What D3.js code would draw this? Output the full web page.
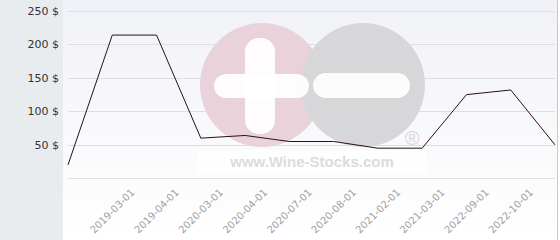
<!DOCTYPE html>
<html><head><meta charset="utf-8">
<script src="https://cdn.jsdelivr.net/npm/d3@7"></script>
<style>html,body{margin:0;padding:0;background:#fff;}svg{display:block;}</style>
</head><body>
<script>
const categories = ["", "2019-03-01", "2019-04-01", "2020-03-01", "2020-04-01", "2020-07-01", "2020-08-01", "2021-02-01", "2021-03-01", "2022-09-01", "2022-10-01", ""];
const prices = [20, 214, 214, 60, 64, 55, 55, 45, 45, 125, 132, 50];
const yTicks = [0, 50, 100, 150, 200, 250];

const W = 560, H = 240;
const svg = d3.select("body").append("svg").attr("width", W).attr("height", H);
const defs = svg.append("defs");
const grad = defs.append("linearGradient").attr("id", "bg").attr("x1", 0).attr("y1", 0).attr("x2", 0).attr("y2", 1);
grad.append("stop").attr("offset", "0%").attr("stop-color", "#f1f2f7");
grad.append("stop").attr("offset", "100%").attr("stop-color", "#ffffff");

// left panel
svg.append("rect").attr("x", 0).attr("y", 0).attr("width", 63).attr("height", H).attr("fill", "#e8ecef");
// plot background
svg.append("rect").attr("x", 63).attr("y", 0).attr("width", 494).attr("height", H).attr("fill", "url(#bg)");
svg.append("line").attr("x1", 557.5).attr("x2", 557.5).attr("y1", 0).attr("y2", H).attr("stroke", "#c8c8c8");

const x = d3.scalePoint().domain(d3.range(categories.length)).range([68, 555]);
const y = d3.scaleLinear().domain([0, 250]).range([178.3, 11]);

// grid
svg.append("g").selectAll("line").data(yTicks).join("line")
  .attr("x1", 68).attr("x2", 555)
  .attr("y1", d => Math.round(y(d)) + 0.5).attr("y2", d => Math.round(y(d)) + 0.5)
  .attr("stroke", "#dedee2").attr("stroke-width", 1);

// watermark
const wm = svg.append("g");
wm.append("circle").attr("cx", 262).attr("cy", 85).attr("r", 62).attr("fill", "#ead2da");
wm.append("circle").attr("cx", 363).attr("cy", 85).attr("r", 62).attr("fill", "#d7d7d9");
wm.append("rect").attr("x", 245).attr("y", 38).attr("width", 30).attr("height", 96).attr("rx", 14).attr("fill", "#ffffff").attr("opacity", 0.92);
wm.append("rect").attr("x", 214).attr("y", 74).attr("width", 95).attr("height", 24).attr("rx", 12).attr("fill", "#ffffff").attr("opacity", 0.92);
wm.append("rect").attr("x", 313).attr("y", 73).attr("width", 97).attr("height", 25).attr("rx", 12.5).attr("fill", "#ffffff").attr("opacity", 0.92);
wm.append("rect").attr("x", 197).attr("y", 150).attr("width", 230).attr("height", 24).attr("fill", "#ffffff").attr("opacity", 0.7);
wm.append("text").attr("x", 312).attr("y", 167).attr("text-anchor", "middle")
  .attr("font-family", "Liberation Sans, Arial, sans-serif").attr("font-weight", "bold").attr("font-size", 15)
  .attr("fill", "#dcdcdc").text("www.Wine-Stocks.com");
wm.append("text").attr("x", 412).attr("y", 145).attr("text-anchor", "middle")
  .attr("font-family", "Liberation Sans, Arial, sans-serif").attr("font-size", 20)
  .attr("fill", "#d6d6d6").text("®");

// y labels
svg.append("g").selectAll("text").data(yTicks.filter(d => d > 0)).join("text")
  .attr("x", 59).attr("y", d => y(d)).attr("dy", "0.35em").attr("text-anchor", "end")
  .attr("font-family", "DejaVu Sans, sans-serif").attr("font-size", 11).attr("fill", "#333")
  .text(d => d + " $");

// x labels
svg.append("g").selectAll("text").data(categories.map((c, i) => ({c, i})).filter(d => d.c)).join("text")
  .attr("transform", d => `translate(${x(d.i)},211) rotate(-45)`)
  .attr("text-anchor", "middle").attr("dy", "0.35em")
  .attr("font-family", "DejaVu Sans, sans-serif").attr("font-size", 10).attr("fill", "#a0a0a0")
  .text(d => d.c);

// line
const line = d3.line().x((d, i) => x(i)).y(d => y(d));
svg.append("path").datum(prices).attr("d", line).attr("fill", "none")
  .attr("stroke", "#2b0d18").attr("stroke-width", 1);
</script>
</body></html>
